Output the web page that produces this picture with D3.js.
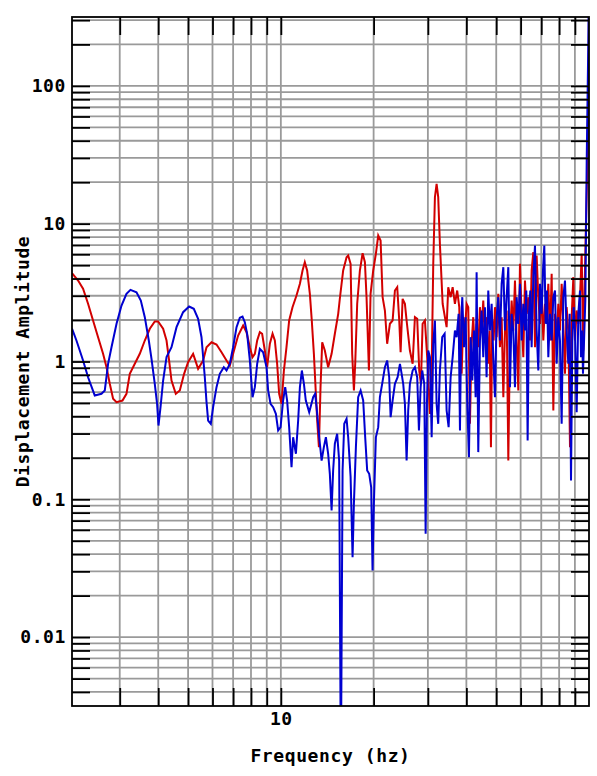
<!DOCTYPE html>
<html>
<head>
<meta charset="utf-8">
<script src="https://cdn.jsdelivr.net/npm/d3@7"></script>
<style>
  html, body { margin: 0; padding: 0; background: #fff; }
  svg text { font-family: "DejaVu Sans Mono", monospace; font-weight: bold; fill: #000; }
</style>
</head>
<body>
<svg id="chart" width="597" height="776"></svg>
<script>
// Axis extents (log-log spectrum plot)
const xDomain = [2.1, 100];
const yDomain = [Math.pow(10, -2.5), Math.pow(10, 2.5)];
const xTickLabels = [10];
const yTickLabels = [0.01, 0.1, 1, 10, 100];
const xTitle = "Frequency (hz)";
const yTitle = "Displacement Amplitude";

// Red trace: frequency (Hz) and displacement amplitude
const redFreq = [
  2.1, 2.198, 2.281, 2.368, 2.458, 2.552, 2.649, 2.718, 2.785, 2.855,
  2.929, 3.062, 3.155, 3.234, 3.357, 3.485, 3.618, 3.756, 3.898, 3.996,
  4.149, 4.256, 4.338, 4.417, 4.561, 4.700, 4.853, 5.000, 5.191, 5.258,
  5.389, 5.594, 5.738, 5.957, 6.183, 6.419, 6.663, 6.830, 7.000, 7.267,
  7.544, 7.738, 7.932, 8.093, 8.234, 8.378, 8.547, 8.694, 8.872, 9.025,
  9.210, 9.399, 9.561, 9.727, 9.874, 10.05, 10.23, 10.43, 10.64, 10.91,
  11.24, 11.53, 11.76, 11.96, 12.17, 12.42, 12.60, 12.80, 12.99, 13.12,
  13.29, 13.45, 13.62, 13.89, 14.24, 14.61, 14.97, 15.35, 15.54, 15.93,
  16.34, 16.54, 16.84, 17.04, 17.26, 17.43, 17.69, 18.05, 18.42, 18.74,
  18.97, 19.31, 19.55, 19.94, 20.34, 20.70, 21.07, 21.39, 21.76, 22.13,
  22.59, 23.05, 23.45, 23.86, 24.22, 24.47, 24.84, 25.27, 25.59, 26.23,
  26.77, 27.23, 27.70, 28.12, 28.48, 28.84, 29.34, 29.85, 30.47, 30.86,
  31.23, 31.62, 32.02, 32.41, 32.82, 33.50, 34.07, 34.51, 34.93, 35.56,
  36.10, 36.72, 37.35, 37.93,
  38.13, 38.61, 39.09, 39.58, 40.07, 40.57, 41.08, 41.59, 42.11, 42.65,
  43.18, 43.72, 44.27, 44.82, 45.38, 45.95, 46.52, 47.11, 47.59, 48.06,
  48.54, 49.03, 49.53, 50.14, 50.77, 51.40, 52.06, 52.72, 53.37, 54.04,
  54.72, 55.40, 56.10, 56.80, 57.51, 58.24, 58.97, 59.70, 60.45, 61.21,
  61.97, 62.75, 63.53, 64.33, 65.14, 65.96, 66.79, 67.62, 68.47, 69.33,
  70.20, 71.08, 71.97, 72.88, 73.79, 74.71, 75.65, 76.60, 77.56, 78.52,
  79.51, 80.50, 81.52, 82.54, 83.57, 84.62, 85.68, 86.77, 87.85, 88.96,
  90.06, 91.20, 92.34, 93.50, 94.67, 95.85,
  97.7, 98.9, 99.9, 100
];
const redAmp = [
  4.373, 3.871, 3.370, 2.623, 1.984, 1.501, 1.137, 0.909, 0.689, 0.536,
  0.507, 0.521, 0.583, 0.814, 0.962, 1.137, 1.420, 1.727, 1.951, 1.951,
  1.727, 1.420, 1.017, 0.728, 0.583, 0.616, 0.814, 0.988, 1.137, 1.046,
  0.885, 1.017, 1.270, 1.380, 1.328, 1.168, 1.017, 0.935, 1.137, 1.544,
  1.825, 1.632, 1.270, 1.075, 1.137, 1.420, 1.632, 1.589, 1.202, 0.909,
  1.344, 1.589, 1.420, 0.962, 0.583, 0.493, 0.860, 1.270, 1.984, 2.478,
  3.013, 3.664, 4.575, 5.255, 4.575, 3.099, 1.984, 1.137, 0.583, 0.373,
  0.239, 0.651, 1.380, 1.202, 0.909, 1.137, 1.589, 2.219, 2.865, 4.575,
  5.713, 5.878, 5.117, 1.137, 0.616, 0.962, 2.623, 4.575, 6.108, 5.255,
  2.930, 0.860, 3.099, 4.575, 6.047, 8.209, 7.552, 2.930, 2.345, 1.344,
  1.878, 1.984, 3.275, 3.461, 1.984, 1.168, 2.851, 2.623, 1.984, 1.202,
  0.962, 2.097, 2.041, 0.860, 0.689, 1.878, 1.984, 1.075, 0.417, 0.860,
  5.117, 15.57, 19.48, 15.57, 7.146, 2.623, 2.097, 1.774, 3.461, 2.930,
  3.461, 2.623, 3.275, 2.478,
  1.420, 0.814, 2.097, 1.679, 2.621, 2.479, 0.353, 1.344, 2.097, 1.075,
  1.876, 1.271, 2.479, 1.679, 2.771, 1.420, 2.097, 0.962, 1.679, 0.239,
  1.984, 1.420, 2.479, 1.502, 3.099, 1.271, 2.097, 0.551, 1.679, 2.345,
  0.191, 1.420, 2.771, 1.679, 3.871, 1.420, 0.616, 5.117, 2.097, 1.075,
  3.871, 2.218, 2.930, 1.420, 4.575, 6.212, 1.271, 5.878, 2.930, 1.876,
  3.275, 1.420, 2.621, 2.097, 3.662, 1.420, 4.329, 0.441, 2.218, 1.420,
  2.621, 1.679, 3.662, 1.876, 0.814, 2.479, 1.679, 0.239, 2.097, 4.093,
  1.420, 2.345, 1.876, 2.930, 6.043, 1.202,
  9.43, 28.7, 213, 600
];

// Blue trace: frequency (Hz) and displacement amplitude
const blueFreq = [
  2.1, 2.171, 2.281, 2.368, 2.489, 2.617, 2.683, 2.750, 2.821, 2.929,
  3.040, 3.155, 3.251, 3.400, 3.512, 3.618, 3.728, 3.804, 3.898, 3.966,
  4.008, 4.069, 4.149, 4.256, 4.417, 4.586, 4.817, 5.039, 5.218, 5.389,
  5.527, 5.665, 5.738, 5.808, 5.925, 6.028, 6.183, 6.337, 6.530, 6.663,
  6.830, 7.000, 7.181, 7.360, 7.509, 7.640, 7.773, 7.932, 8.033, 8.093,
  8.234, 8.378, 8.547, 8.760, 8.985, 9.094, 9.259, 9.441, 9.634, 9.800,
  9.98, 10.17, 10.33, 10.48, 10.64, 10.83, 10.96, 11.19, 11.38, 11.53,
  11.70, 11.88, 12.05, 12.36, 12.73, 12.92, 13.06, 13.32, 13.56, 13.79,
  14.00, 14.24, 14.42, 14.61, 14.78, 14.97, 15.23, 15.46, 15.66, 15.86,
  16.06, 16.34, 16.54, 16.84, 17.09, 17.26, 17.52, 17.82, 18.15, 18.50,
  18.78, 19.06, 19.35, 19.64, 19.84, 20.04, 20.34, 20.70, 20.96, 21.32,
  21.76, 22.13, 22.47, 22.71, 23.05, 23.45, 23.93, 24.35, 24.66, 24.95,
  25.27, 25.59, 25.90, 26.23, 26.77, 27.23, 27.70, 28.06, 28.42, 28.76,
  29.20, 29.50, 29.79, 30.08, 30.47, 30.86, 31.23, 31.62, 32.02, 32.41,
  32.82, 33.40, 34.00, 34.51, 35.03, 35.56, 36.10, 36.72, 37.19, 37.75,
  38.13, 38.51, 38.80, 39.28, 39.78, 40.27, 40.78, 41.29, 41.81, 42.33,
  42.86, 43.18, 43.72, 44.27, 44.82, 45.38, 45.95, 46.52, 47.11, 47.70,
  48.31, 48.91, 49.53, 50.14, 50.77, 51.40, 52.06, 52.72, 53.37, 54.04,
  54.72, 55.40, 56.10, 56.80, 57.51, 58.24, 58.97, 59.70, 60.45, 61.21,
  61.97, 62.59, 63.22, 63.85, 64.49, 65.14, 65.96, 66.79, 67.62, 68.47,
  69.33, 70.20, 70.90, 71.61, 72.33, 73.05, 73.79, 74.71, 75.65, 76.60,
  77.56, 78.52, 79.51, 80.50, 81.52, 82.54, 83.57, 84.62, 85.68, 86.55,
  87.42, 88.29, 89.17, 90.06, 91.20, 92.34, 93.50, 94.19, 94.90, 95.61,
  97.3, 98.3, 99.5, 100
];
const blueAmp = [
  1.73, 1.42, 1.017, 0.769, 0.567, 0.583, 0.616, 0.962, 1.27, 1.878,
  2.549, 3.099, 3.313, 3.183, 2.771, 2.097, 1.42, 1.046, 0.689, 0.493,
  0.343, 0.466, 0.728, 1.075, 1.27, 1.774, 2.279, 2.507, 2.413, 2.041,
  1.501, 0.769, 0.507, 0.373, 0.353, 0.466, 0.651, 0.814, 0.909, 0.86,
  0.962, 1.27, 1.774, 2.076, 2.121, 1.928, 1.589, 1.017, 0.689, 0.551,
  0.651, 0.962, 1.236, 1.168, 0.909, 0.616, 0.493, 0.466, 0.417, 0.316,
  0.334, 0.521, 0.651, 0.521, 0.334, 0.171, 0.282, 0.214, 0.373, 0.651,
  0.86, 0.689, 0.521, 0.429, 0.551, 0.583, 0.466, 0.282, 0.191, 0.239,
  0.282, 0.214, 0.153, 0.0829, 0.162, 0.253, 0.299, 0.191, 0.001, 0.162,
  0.353, 0.384, 0.282, 0.145, 0.038, 0.0927, 0.239, 0.551, 0.616, 0.521,
  0.282, 0.162, 0.153, 0.122, 0.0304, 0.0927, 0.282, 0.334, 0.551, 0.689,
  0.909, 1.017, 0.769, 0.394, 0.521, 0.689, 0.769, 0.962, 0.814, 0.689,
  0.493, 0.191, 0.441, 0.689, 0.86, 0.909, 0.769, 0.316, 0.651, 0.86,
  0.689, 0.0562, 0.493, 1.202, 1.075, 0.282, 1.344, 1.984, 0.493, 0.353,
  0.86, 1.501, 1.589, 0.441, 0.334, 0.769, 1.075, 1.679, 1.501, 2.219,
  0.316, 2.097, 2.930, 1.271, 2.097, 0.493, 0.202, 1.502, 0.728, 1.679,
  0.551, 4.449, 0.220, 1.420, 2.345, 1.075, 2.479, 0.770, 3.275, 1.679,
  2.621, 1.075, 0.551, 2.097, 2.930, 1.420, 3.662, 4.837, 1.679, 2.930,
  4.837, 0.651, 2.218, 1.679, 0.651, 2.930, 1.876, 3.662, 1.420, 2.621,
  1.679, 3.275, 0.267, 2.218, 3.275, 1.271, 4.093, 6.947, 1.679, 0.860,
  3.662, 2.218, 4.575, 6.947, 1.876, 3.275, 1.075, 2.218, 1.420, 2.930,
  3.275, 0.962, 2.097, 1.420, 0.353, 2.930, 3.871, 1.679, 0.962, 2.218,
  0.137, 1.420, 2.479, 1.679, 0.429, 2.218, 3.275, 1.075, 1.679, 0.814,
  2.77, 28.7, 213, 600
];

const series = [
  { name: "red",  color: "#d20000", freq: redFreq,  amp: redAmp },
  { name: "blue", color: "#0000d0", freq: blueFreq, amp: blueAmp }
];

// Layout
const plot = { left: 72, right: 589, top: 17, bottom: 706 };
const tickLen = 18;
const gridColor = "#9a9a9a";
const fontSize = "18px";
const letterSpacing = "0.6px";

const svg = d3.select("#chart");

const x = d3.scaleLog().domain(xDomain).range([plot.left, plot.right]);
const y = d3.scaleLog().domain(yDomain).range([plot.bottom, plot.top]);

// Tick positions: 1..9 of every decade inside the domain
function decadeTicks(domain, exps) {
  const out = [];
  exps.forEach(e => {
    for (let m = 1; m <= 9; m++) {
      const v = +(m * Math.pow(10, e)).toPrecision(6);
      if (v >= domain[0] && v <= domain[1]) out.push(v);
    }
  });
  return out;
}
const xTicks = decadeTicks(xDomain, [0, 1]).filter(v => v < xDomain[1]);
const yTicks = decadeTicks(yDomain, [-3, -2, -1, 0, 1, 2]);

function labelFor(list) {
  return d => {
    const hit = list.find(v => Math.abs(v - d) / v < 1e-6);
    return hit === undefined ? "" : String(hit);
  };
}

// Grid
const grid = svg.append("g").attr("stroke", gridColor).attr("stroke-width", 1.8);
grid.selectAll("line.v").data(xTicks).join("line")
  .attr("class", "v")
  .attr("x1", d => x(d)).attr("x2", d => x(d))
  .attr("y1", plot.top).attr("y2", plot.bottom);
grid.selectAll("line.h").data(yTicks).join("line")
  .attr("class", "h")
  .attr("x1", plot.left).attr("x2", plot.right)
  .attr("y1", d => y(d)).attr("y2", d => y(d));

// Data lines, clipped to the plot frame
svg.append("clipPath").attr("id", "plotClip")
  .append("rect")
  .attr("x", plot.left).attr("y", plot.top)
  .attr("width", plot.right - plot.left).attr("height", plot.bottom - plot.top);

const line = d3.line().x(d => x(d.f)).y(d => y(d.a));
const lines = svg.append("g").attr("clip-path", "url(#plotClip)");
series.forEach(s => {
  const pts = s.freq.map((f, i) => ({ f, a: s.amp[i] }));
  lines.append("path")
    .datum(pts)
    .attr("fill", "none")
    .attr("stroke", s.color)
    .attr("stroke-width", 2)
    .attr("stroke-linejoin", "miter")
    .attr("d", line);
});

// Axes: inward ticks on all four sides
function styleAxis(g) {
  g.select(".domain").remove();
  g.selectAll(".tick line").attr("stroke", "#000").attr("stroke-width", 1.8);
  g.selectAll("text").attr("font-family", null).attr("font-size", null)
    .style("font-size", fontSize).style("letter-spacing", letterSpacing);
}

svg.append("g").attr("transform", `translate(0,${plot.bottom})`)
  .call(d3.axisBottom(x).tickValues(xTicks).tickSize(-tickLen).tickPadding(6)
    .tickFormat(labelFor(xTickLabels)))
  .call(styleAxis);
svg.append("g").attr("transform", `translate(0,${plot.top})`)
  .call(d3.axisTop(x).tickValues(xTicks).tickSize(-tickLen).tickFormat(""))
  .call(styleAxis);
svg.append("g").attr("transform", `translate(${plot.left},0)`)
  .call(d3.axisLeft(y).tickValues(yTicks).tickSize(-tickLen).tickPadding(6)
    .tickFormat(labelFor(yTickLabels)))
  .call(styleAxis);
svg.append("g").attr("transform", `translate(${plot.right},0)`)
  .call(d3.axisRight(y).tickValues(yTicks).tickSize(-tickLen).tickFormat(""))
  .call(styleAxis);

// Frame
svg.append("rect")
  .attr("x", plot.left).attr("y", plot.top)
  .attr("width", plot.right - plot.left).attr("height", plot.bottom - plot.top)
  .attr("fill", "none").attr("stroke", "#000").attr("stroke-width", 1.8);

// Axis titles
svg.append("text")
  .attr("x", (plot.left + plot.right) / 2)
  .attr("y", 762)
  .attr("text-anchor", "middle")
  .style("font-size", fontSize).style("letter-spacing", letterSpacing)
  .text(xTitle);
svg.append("text")
  .attr("transform", `translate(29,${(plot.top + plot.bottom) / 2}) rotate(-90)`)
  .attr("text-anchor", "middle")
  .style("font-size", fontSize).style("letter-spacing", letterSpacing)
  .text(yTitle);
</script>
</body>
</html>
